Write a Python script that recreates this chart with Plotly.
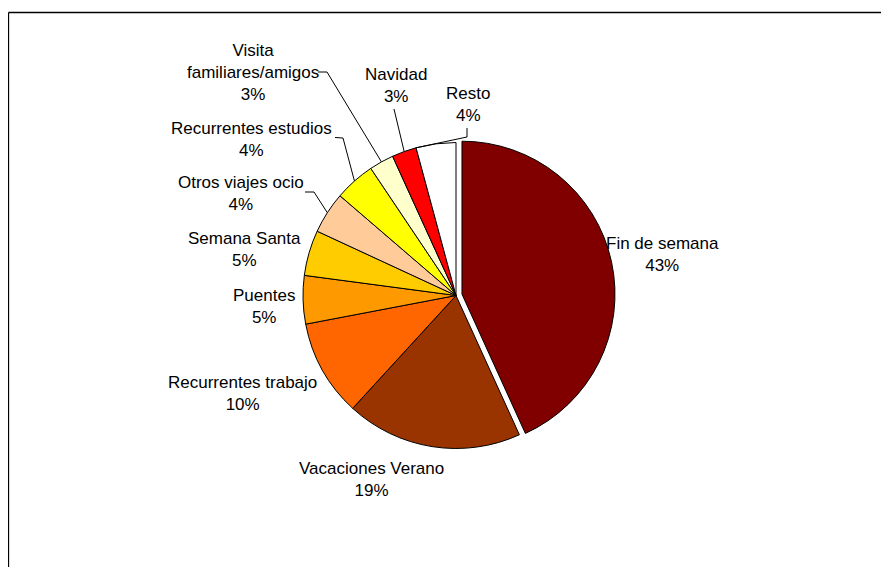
import math
import plotly.graph_objects as go

# ---- data ----
categories = ["Fin de semana", "Vacaciones Verano", "Recurrentes trabajo", "Puentes",
              "Semana Santa", "Otros viajes ocio", "Recurrentes estudios",
              "Visita familiares/amigos", "Navidad", "Resto"]
label_text = ["Fin de semana", "Vacaciones Verano", "Recurrentes trabajo", "Puentes",
              "Semana Santa", "Otros viajes ocio", "Recurrentes estudios",
              "Visita<br>familiares/amigos", "Navidad", "Resto"]
values = [43.2, 18.6, 10.2, 5.1, 4.8, 4.4, 4.3, 2.6, 2.6, 4.2]

# ---- style ----
colors = ["#800000", "#993300", "#FF6600", "#FF9900", "#FFCC00",
          "#FFCC99", "#FFFF00", "#FFFFCC", "#FF0000", "#FFFFFF"]
pulls = [0.04, 0, 0, 0, 0, 0, 0, 0, 0, 0]

OFF = 8  # page body margin
W, H = 889 - 2 * OFF, 575 - 2 * OFF


def to_paper(px, py):
    return (px - OFF) / W, 1 - (py - OFF) / H


CX, CY, R = 456, 295.5, 153  # screen px
PULL = max(pulls)
box = 2 * R * (1 + PULL)
cxp, cyp = to_paper(CX, CY)
dom_x = [cxp - box / 2 / W, cxp + box / 2 / W]
dom_y = [cyp - box / 2 / H, cyp + box / 2 / H]

# label block centres (screen px) and leader elbows
label_pos = [(662, 254), (371, 479.5), (242, 393), (264, 306), (245, 249),
             (240.5, 193.5), (251.7, 139.5), (253.3, 73), (395.5, 85), (467.5, 104)]
leaders = {
    5: ([(305, 192), (314, 192)], 0.5),
    6: ([(335, 137.5), (343, 138)], 0.5),
    7: ([(318, 72), (327, 72)], 0.5),
    8: ([(394, 109)], 0.5),
    9: ([(467, 128), (467, 137)], 0.0),
}

FONT = "Liberation Sans, Arial, sans-serif"

total = sum(values)
fig = go.Figure(go.Pie(
    labels=categories, values=values, sort=False, direction="clockwise",
    rotation=0, pull=pulls, textinfo="none", hoverinfo="label+percent",
    marker=dict(colors=colors, line=dict(color="#000000", width=1)),
    domain=dict(x=dom_x, y=dom_y), showlegend=False,
))

annotations = []
for i, (txt, v) in enumerate(zip(label_text, values)):
    x, y = to_paper(*label_pos[i])
    pct = round(v / total * 100)
    annotations.append(dict(
        x=x, y=y, xref="paper", yref="paper",
        text=f"{txt}<br>{pct}%", showarrow=False, xanchor="center", yanchor="middle",
        font=dict(family=FONT, size=17, color="#000000"), align="center",
    ))

shapes = []
cum = 0.0
starts = []
for v in values:
    starts.append(cum)
    cum += v
for i, (pts, frac) in leaders.items():
    ang = (starts[i] + frac * values[i]) / total * 2 * math.pi
    ex = CX + R * math.sin(ang)
    ey = CY - R * math.cos(ang)
    allpts = pts + [(ex, ey)]
    path = "M " + " L ".join("{},{}".format(*to_paper(x, y)) for x, y in allpts)
    shapes.append(dict(type="path", xref="paper", yref="paper", path=path,
                       line=dict(color="#000000", width=1)))

# outer frame: two separate edges (top and left)
fx0, fy1 = to_paper(8.5, 12.5)
shapes.append(dict(type="line", xref="paper", yref="paper",
                   x0=fx0, x1=fx0, y0=-0.5, y1=fy1,
                   line=dict(color="#000000", width=1.3)))
shapes.append(dict(type="line", xref="paper", yref="paper",
                   x0=fx0, x1=1.5, y0=fy1, y1=fy1,
                   line=dict(color="#000000", width=1.3)))

fig.update_layout(
    width=W, height=H, margin=dict(l=0, r=0, t=0, b=0),
    paper_bgcolor="#FFFFFF", plot_bgcolor="#FFFFFF",
    annotations=annotations, shapes=shapes,
    font=dict(family=FONT),
)
fig.write_html("out.html")
